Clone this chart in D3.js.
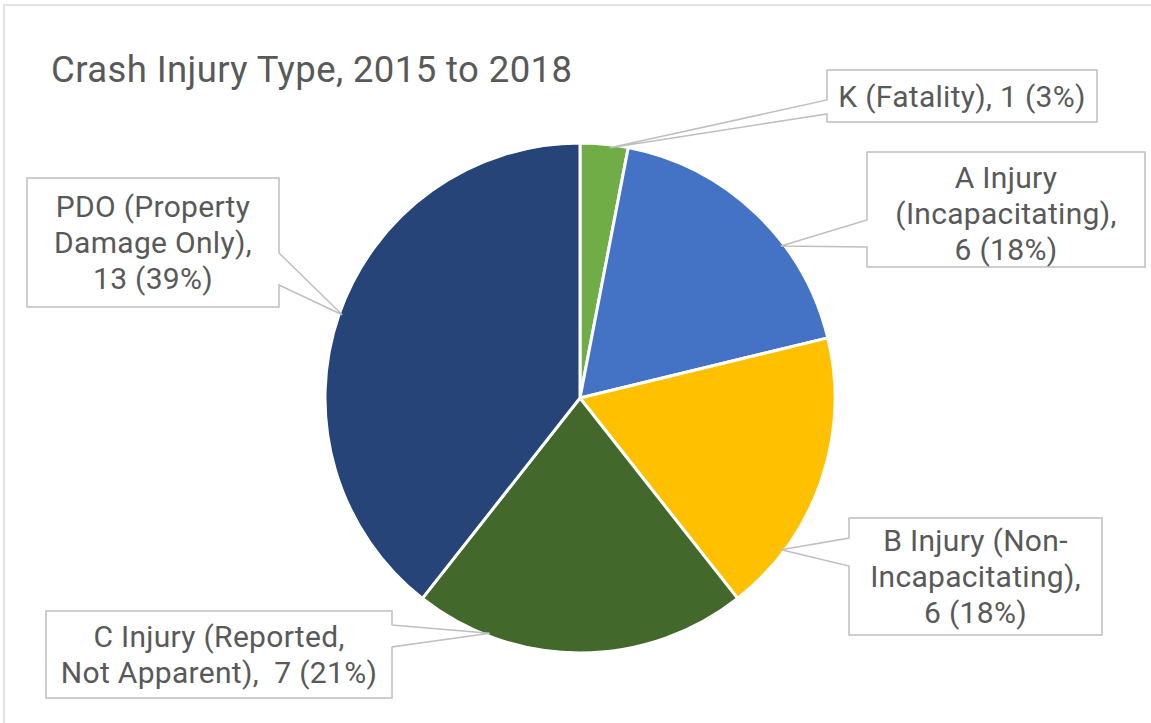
<!DOCTYPE html>
<html>
<head>
<meta charset="utf-8">
<script src="https://cdn.jsdelivr.net/npm/d3@7"></script>
<style>
  html, body { margin: 0; padding: 0; background: #fff; }
  svg { display: block; }
</style>
</head>
<body>
<script>
// Crash injury pie chart
// ---------------------------------------------
var categories = ['K (Fatality)', 'A Injury (Incapacitating)', 'B Injury (Non-Incapacitating)',
                  'C Injury (Reported, Not Apparent)', 'PDO (Property Damage Only)'];
var counts = [1, 6, 6, 7, 13];
var percents = ['3%', '18%', '18%', '21%', '39%'];
var labelLines = [
  ['K (Fatality), 1 (3%)'],
  ['A Injury', '(Incapacitating),', '6 (18%)'],
  ['B Injury (Non-', 'Incapacitating),', '6 (18%)'],
  ['C Injury (Reported,', 'Not Apparent),  7 (21%)'],
  ['PDO (Property', 'Damage Only),', '13 (39%)']
];
var colors = ['#70AD47', '#4472C4', '#FFC000', '#43682B', '#264478'];

// callout layout (box, wedge base on one side, pointer angle on the pie)
var callouts = [
  { x: 827, y: 70,  w: 270, h: 52,  side: 'left',  b1: 100, b2: 114, angle: 6.8,   dy: 0 },
  { x: 867, y: 152, w: 278, h: 115, side: 'left',  b1: 220, b2: 247, angle: 52.9,  dy: 4 },
  { x: 849, y: 518, w: 253, h: 117, side: 'left',  b1: 538, b2: 566, angle: 127,   dy: 0 },
  { x: 46,  y: 611, w: 346, h: 87,  side: 'right', b1: 625, b2: 647, angle: 201,   dy: 0 },
  { x: 27,  y: 178, w: 252, h: 129, side: 'right', b1: 253, b2: 285, angle: 289.3, dy: 0 }
];

var w = 1151;
var h = 723;
var cx = 580, cy = 398, radius = 255;
var lineH = 36;
var font = 'Roboto, Open Sans, sans-serif';

var svg = d3.select('body').append('svg').attr('width', w).attr('height', h);

// chart area border (only top/left visible)
svg.append('rect')
  .attr('x', 4).attr('y', 5)
  .attr('width', 1300).attr('height', 900)
  .attr('fill', '#fff')
  .attr('stroke', '#d9d9d9')
  .attr('stroke-width', 1.5);

svg.append('text')
  .text('Crash Injury Type, 2015 to 2018')
  .attr('x', 51)
  .attr('y', 82)
  .attr('font-family', font)
  .attr('font-size', '36.5px')
  .attr('letter-spacing', '0.4px')
  .attr('fill', '#595959');

var pie = d3.pie().sort(null).value(function(d) { return d; });
var arc = d3.arc().innerRadius(0).outerRadius(radius);

var g = svg.append('g').attr('transform', 'translate(' + cx + ',' + cy + ')');

g.selectAll('path').data(pie(counts)).enter()
  .append('path')
  .attr('d', arc)
  .attr('fill', function(d, i) { return colors[i]; })
  .attr('stroke', '#fff')
  .attr('stroke-width', 3)
  .attr('stroke-linejoin', 'round');

// callouts
function calloutPath(c) {
  var a = c.angle * Math.PI / 180;
  var tx = cx + (radius - 3) * Math.sin(a);
  var ty = cy - (radius - 3) * Math.cos(a);
  var x0 = c.x, x1 = c.x + c.w, y0 = c.y, y1 = c.y + c.h;
  if (c.side === 'left') {
    return 'M' + x0 + ',' + y0 + 'H' + x1 + 'V' + y1 + 'H' + x0 + 'V' + c.b2 +
      'L' + tx + ',' + ty + 'L' + x0 + ',' + c.b1 + 'Z';
  }
  return 'M' + x0 + ',' + y0 + 'H' + x1 + 'V' + c.b1 + 'L' + tx + ',' + ty +
    'L' + x1 + ',' + c.b2 + 'V' + y1 + 'H' + x0 + 'Z';
}

var labels = svg.selectAll('g.callout').data(callouts).enter()
  .append('g').attr('class', 'callout');

labels.append('path')
  .attr('d', calloutPath)
  .attr('fill', '#fff')
  .attr('stroke', '#bfbfbf')
  .attr('stroke-width', 1.5)
  .attr('stroke-linejoin', 'miter');

labels.each(function(c, i) {
  var lines = labelLines[i];
  var mid = c.y + c.h / 2 + 10.5 + c.dy;
  var cxBox = c.x + c.w / 2;
  var t = d3.select(this).append('text')
    .attr('text-anchor', 'middle')
    .attr('font-family', font)
    .attr('font-size', '30px')
    .attr('letter-spacing', '0.3px')
    .attr('fill', '#595959')
    .style('white-space', 'pre');
  t.selectAll('tspan').data(lines).enter()
    .append('tspan')
    .text(function(d) { return d; })
    .attr('x', cxBox)
    .attr('y', function(d, j) { return mid + (j - (lines.length - 1) / 2) * lineH; });
});
</script>
</body>
</html>
